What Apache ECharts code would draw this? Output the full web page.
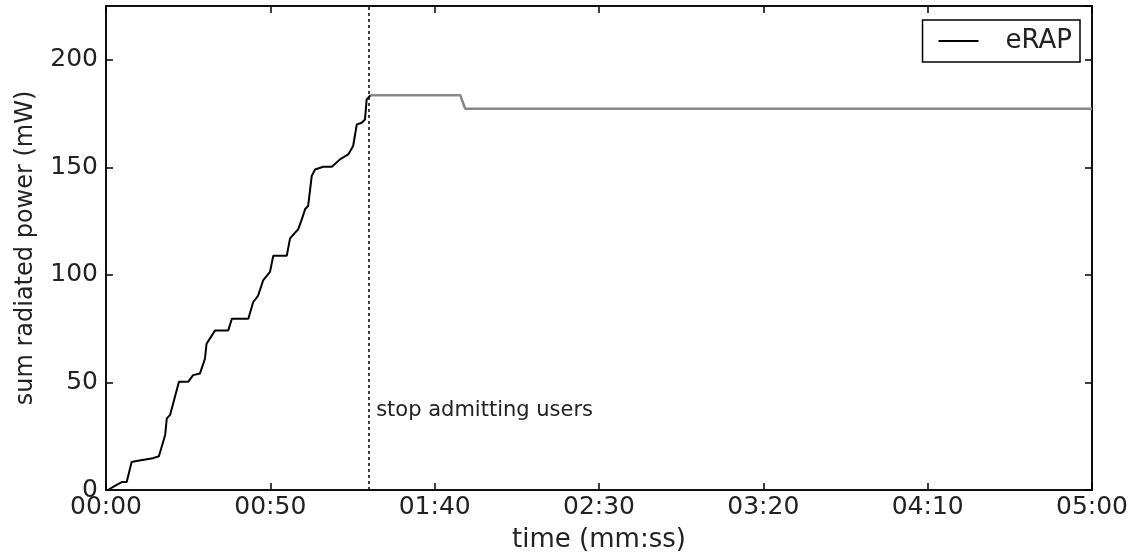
<!DOCTYPE html>
<html>
<head>
<meta charset="utf-8">
<script src="https://cdn.jsdelivr.net/npm/echarts@6/dist/echarts.min.js"></script>
<style>
  html, body { margin: 0; padding: 0; background: #fff; }
  #chart { width: 1134px; height: 558px; }
</style>
</head>
<body>
<div id="chart"></div>
<script>
// time in seconds, power in mW
const riseTimes = [0.6, 2.7, 4.8, 6.3, 7.8, 9.7, 14.3, 16.1, 18, 18.5, 19.5, 21, 22.2, 25, 26.5, 28.6,
  29.1, 30.1, 30.6, 33.2, 37.2, 38.3, 43.3, 44.8, 46.3, 47.8, 49.9, 50.9, 55, 56, 58.5, 59.6,
  60.6, 61.5, 62.6, 63.6, 66.1, 68.7, 71.2, 73.7, 75.2, 76.3, 77.8, 78.8, 79.3, 80.4];
const risePower = [0, 1.9, 3.7, 3.7, 13, 13.6, 14.8, 15.7, 25.6, 33.3, 34.9, 43.5, 50.3, 50.3, 53.4, 54.2,
  55, 61, 68, 74.2, 74.2, 79.6, 79.6, 87.4, 90.4, 97.4, 101.4, 108.9, 108.9, 117, 121.3, 125.9,
  130.6, 132, 146, 149, 150.3, 150.3, 153.7, 156, 159.9, 169.9, 170.7, 172.2, 181.5, 183.5];
const holdTimes = [80.4, 107.8, 109.3, 300];
const holdPower = [183.5, 183.5, 177.2, 177.2];
const stopTime = 80;

const font = "DejaVu Sans";
const fmt = (s) => {
  const m = Math.floor(s / 60), r = s % 60;
  return String(m).padStart(2, "0") + ":" + String(r).padStart(2, "0");
};

const chart = echarts.init(document.getElementById("chart"));

const axisLine = { show: true, onZero: false, lineStyle: { color: "#000", width: 1.5 } };
const axisTick = { show: true, inside: true, length: 7, lineStyle: { color: "#000", width: 1.5 } };

const option = {
  backgroundColor: "#fff",
  animation: false,
  grid: { left: 106, right: 42, top: 6, bottom: 66, show: true, borderColor: "#000", borderWidth: 1.5 },
  legend: {
    data: [{ name: "eRAP", icon: "rect" }],
    right: 54,
    top: 20,
    borderColor: "#000",
    borderWidth: 1.5,
    borderRadius: 0,
    padding: [8, 8, 8, 16],
    itemWidth: 40,
    itemHeight: 2,
    textStyle: { fontFamily: font, fontSize: 26, color: "#222", padding: [0, 0, 0, 22] }
  },
  xAxis: [
    {
      type: "value", min: 0, max: 300, interval: 50,
      name: "time (mm:ss)", nameLocation: "middle", nameGap: 37,
      nameTextStyle: { fontFamily: font, fontSize: 26, color: "#222" },
      axisLine, axisTick, splitLine: { show: false },
      axisLabel: { fontFamily: font, fontSize: 25, color: "#222", margin: 5, formatter: fmt }
    },
    {
      type: "value", position: "top", min: 0, max: 300, interval: 50,
      axisLine, axisTick, splitLine: { show: false }, axisLabel: { show: false }
    }
  ],
  yAxis: [
    {
      type: "value", min: 0, max: 225, interval: 50,
      name: "sum radiated power (mW)", nameLocation: "middle", nameGap: 68,
      nameTextStyle: { fontFamily: font, fontSize: 24, color: "#222" },
      axisLine, axisTick, splitLine: { show: false },
      axisLabel: { fontFamily: font, fontSize: 25, color: "#222", margin: 8, showMaxLabel: false }
    },
    {
      type: "value", position: "right", min: 0, max: 225, interval: 50,
      axisLine, axisTick, splitLine: { show: false }, axisLabel: { show: false }
    }
  ],
  series: [
    {
      name: "eRAP",
      type: "line",
      symbol: "none",
      data: riseTimes.map((t, i) => [t, risePower[i]]),
      lineStyle: { color: "#000", width: 2 },
      itemStyle: { color: "#000" },
      markLine: {
        silent: true,
        symbol: "none",
        label: { show: false },
        lineStyle: { color: "#000", type: [3, 3], width: 1.5 },
        data: [{ xAxis: stopTime }]
      },
      z: 3
    },
    {
      name: "eRAP hold",
      type: "line",
      symbol: "none",
      xAxisIndex: 1,
      yAxisIndex: 1,
      data: holdTimes.map((t, i) => [t, holdPower[i]]),
      lineStyle: { color: "#888", width: 2.5 },
      z: 2
    }
  ]
};
chart.setOption(option);

// annotation next to the dashed line
const p = chart.convertToPixel({ gridIndex: 0 }, [stopTime + 2.2, 37]);
chart.setOption({
  graphic: [{
    type: "text", x: p[0], y: p[1],
    style: { text: "stop admitting users", font: "21px DejaVu Sans", fill: "#222", textVerticalAlign: "middle" }
  }]
});
</script>
</body>
</html>
